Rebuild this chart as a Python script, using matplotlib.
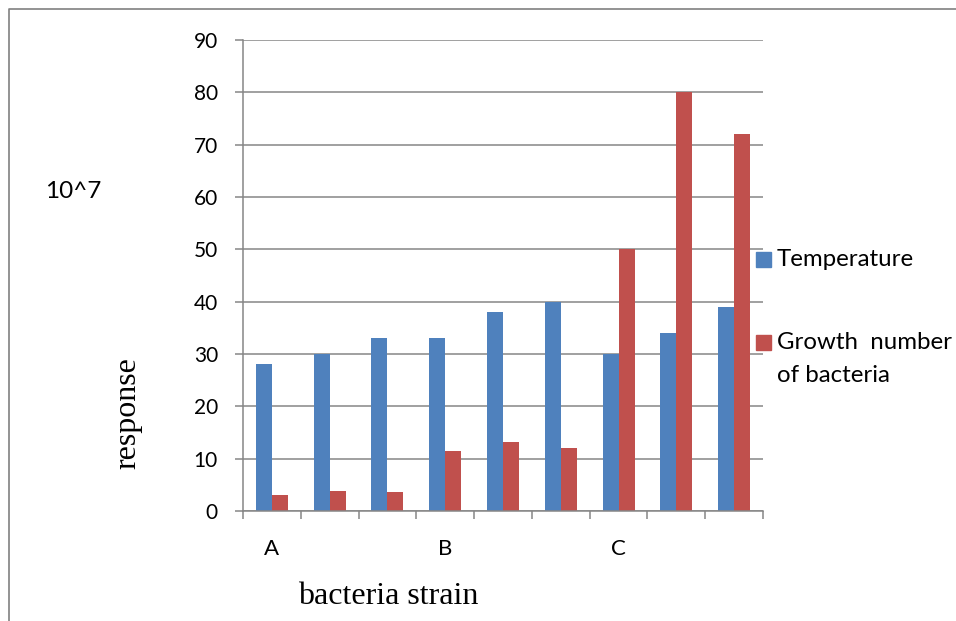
import numpy as np
import matplotlib
matplotlib.use("Agg")
import matplotlib.pyplot as plt
from matplotlib.patches import Rectangle
from matplotlib.lines import Line2D

# strain groups and the two measured series
strains = ["A", "", "", "B", "", "", "C", "", ""]
temperature = [28, 30, 33, 33, 38, 40, 30, 34, 39]
growth = [3.1, 3.9, 3.7, 11.5, 13.1, 12.1, 50, 80, 72]
series_names = ["Temperature", "Growth  number\nof bacteria"]
yticks = [0, 10, 20, 30, 40, 50, 60, 70, 80, 90]

blue = "#4F81BD"
red = "#C0504D"
grid_col = "#868686"

fig = plt.figure(figsize=(9.56, 6.21), dpi=100)
ax = fig.add_axes([243 / 956, 1 - 511 / 621, 520 / 956, 471 / 621])

x = np.arange(len(strains))
w = 0.277
ax.bar(x - w / 2, temperature, width=w, color=blue, zorder=2)
ax.bar(x + w / 2, growth, width=w, color=red, zorder=2)

ax.set_xlim(-0.5, len(strains) - 0.5)
ax.set_ylim(0, 90)
ax.set_yticks(yticks)
ax.yaxis.grid(True, color=grid_col, linewidth=1.1)
ax.set_axisbelow(True)

for side in ["top", "right"]:
    ax.spines[side].set_visible(False)
for side in ["left", "bottom"]:
    ax.spines[side].set_color(grid_col)
    ax.spines[side].set_linewidth(1.1)

ax.tick_params(axis="y", length=6, width=1.1, color=grid_col, pad=12,
               labelsize=15)
for t in ax.get_yticklabels():
    t.set_fontfamily("Lato")

# category labels centred under groups, tick marks between groups
ax.set_xticks(x)
ax.set_xticklabels(strains, fontsize=16, fontfamily="Lato")
ax.set_xticks(np.arange(len(strains) + 1) - 0.5, minor=True)
ax.tick_params(axis="x", which="major", length=0, pad=20)
ax.tick_params(axis="x", which="minor", length=6, width=1.1, color=grid_col)

fig.text(128 / 956, 1 - 413 / 621, "response", rotation=90,
         ha="center", va="center", fontsize=23, fontfamily="Liberation Serif")
fig.text(388 / 956, 1 - 597 / 621, "bacteria strain",
         ha="center", va="center", fontsize=23, fontfamily="Liberation Serif")
fig.text(45 / 956, 1 - 192 / 621, "10^7", ha="left", va="center",
         fontsize=17.5, fontfamily="Lato")

# legend drawn at the right of the plot
sq = 15
for col, name, ytop in [(blue, series_names[0], 252), (red, series_names[1], 335)]:
    fig.add_artist(Rectangle((756 / 956, 1 - (ytop + sq) / 621), sq / 956, sq / 621,
                             transform=fig.transFigure, color=col))
    fig.text(777 / 956, 1 - (ytop + sq / 2) / 621, name.split("\n")[0],
             ha="left", va="center", fontsize=17.3, fontfamily="Lato")
    if "\n" in name:
        fig.text(777 / 956, 1 - (ytop + sq / 2 + 33) / 621, name.split("\n")[1],
                 ha="left", va="center", fontsize=17.3, fontfamily="Lato")

# chart area border
fig.add_artist(Line2D([8.5 / 956, 8.5 / 956, 1], [0, 1 - 8.5 / 621, 1 - 8.5 / 621],
                      transform=fig.transFigure, color="#808080", linewidth=1.2))

fig.savefig("out.png", dpi=100)
